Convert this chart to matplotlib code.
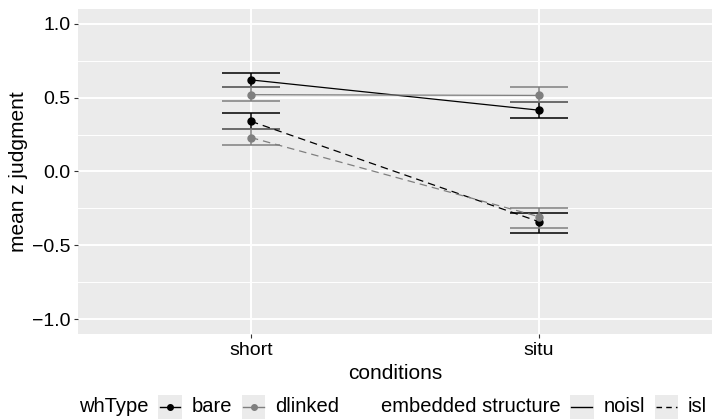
import matplotlib
matplotlib.use('Agg')
import matplotlib.pyplot as plt
from matplotlib.lines import Line2D
from matplotlib.patches import Rectangle
from matplotlib.offsetbox import (AnchoredOffsetbox, DrawingArea, HPacker,
                                  TextArea)
import numpy as np

plt.rcParams['font.family'] = ['Liberation Sans', 'DejaVu Sans']

# data
conditions = ['short', 'situ']
bare_noisl = [0.62, 0.415]
bare_noisl_lo = [0.57, 0.36]
bare_noisl_hi = [0.67, 0.468]
dlinked_noisl = [0.52, 0.515]
dlinked_noisl_lo = [0.475, 0.468]
dlinked_noisl_hi = [0.57, 0.57]
bare_isl = [0.34, -0.34]
bare_isl_lo = [0.286, -0.414]
bare_isl_hi = [0.394, -0.279]
dlinked_isl = [0.23, -0.306]
dlinked_isl_lo = [0.178, -0.38]
dlinked_isl_hi = [0.286, -0.246]

BLACK = '#000000'
GREY = '#7F7F7F'
PANEL = '#EBEBEB'

series = [
    (bare_noisl, bare_noisl_lo, bare_noisl_hi, BLACK, '-'),
    (dlinked_noisl, dlinked_noisl_lo, dlinked_noisl_hi, GREY, '-'),
    (bare_isl, bare_isl_lo, bare_isl_hi, BLACK, (0, (6, 4))),
    (dlinked_isl, dlinked_isl_lo, dlinked_isl_hi, GREY, (0, (6, 4))),
]

fig = plt.figure(figsize=(7.13, 4.2), dpi=100)
ax = fig.add_axes([78 / 713, (420 - 334) / 420, (712 - 78) / 713, (334 - 9) / 420])
ax.set_facecolor(PANEL)
for s in ax.spines.values():
    s.set_visible(False)

x = np.arange(1, len(conditions) + 1)
for mean, lo, hi, col, ls in series:
    ax.vlines(x, lo, hi, colors=col, lw=1.1, zorder=3)
    ax.hlines(lo, x - 0.1, x + 0.1, colors=col, lw=1.1, zorder=3)
    ax.hlines(hi, x - 0.1, x + 0.1, colors=col, lw=1.1, zorder=3)
    ax.plot(x, mean, color=col, lw=0.9, linestyle=ls, zorder=4)
    ax.plot(x, mean, 'o', color=col, ms=5, zorder=5)

ax.set_xlim(0.4, 2.6)
ax.set_ylim(-1.1, 1.1)
ax.set_xticks(x)
ax.set_xticklabels(conditions)
ax.set_yticks([-1.0, -0.5, 0.0, 0.5, 1.0])
ax.set_yticklabels(['\u22121.0', '\u22120.5', '0.0', '0.5', '1.0'])
ax.set_yticks([-0.75, -0.25, 0.25, 0.75], minor=True)
ax.grid(which='major', color='white', lw=1.4, zorder=0)
ax.grid(which='minor', axis='y', color='white', lw=0.7, zorder=0)
ax.set_axisbelow(True)
ax.tick_params(which='major', length=3, width=0.8, color='#333333',
               labelsize=14, labelcolor='black', pad=2.5)
ax.tick_params(which='minor', length=0)

ax.set_xlabel('conditions', fontsize=15, labelpad=4)
ax.set_ylabel('mean z judgment', fontsize=15, labelpad=3)


def key(col=None, ls='-', point=False):
    w = 17
    da = DrawingArea(w, w, 0, 0)
    da.add_artist(Rectangle((0, 0), w, w, fc=PANEL, ec='none'))
    lc = col if col else BLACK
    da.add_artist(Line2D([1, w - 1], [w / 2, w / 2], color=lc, lw=1.0, linestyle=ls))
    if point:
        da.add_artist(Line2D([w / 2], [w / 2], marker='o', color=lc, ms=4))
    return da


def txt(s):
    return TextArea(s, textprops=dict(fontsize=14.5, color='black'))


sep = 7
leg1 = HPacker(children=[txt('whType'), key(BLACK, point=True), txt('bare'),
                         key(GREY, point=True), txt('dlinked')],
               sep=sep, pad=0, align='center')
leg2 = HPacker(children=[txt('embedded structure'), key(), txt('noisl'),
                         key(ls=(0, (4, 3))), txt('isl')],
               sep=sep, pad=0, align='center')
box = HPacker(children=[leg1, leg2], sep=30, pad=0, align='center')
anch = AnchoredOffsetbox(loc='center', child=box, pad=0, frameon=False,
                         bbox_to_anchor=(393 / 713, 13 / 420),
                         bbox_transform=fig.transFigure, borderpad=0)
fig.add_artist(anch)

fig.savefig('out.png', dpi=100)
